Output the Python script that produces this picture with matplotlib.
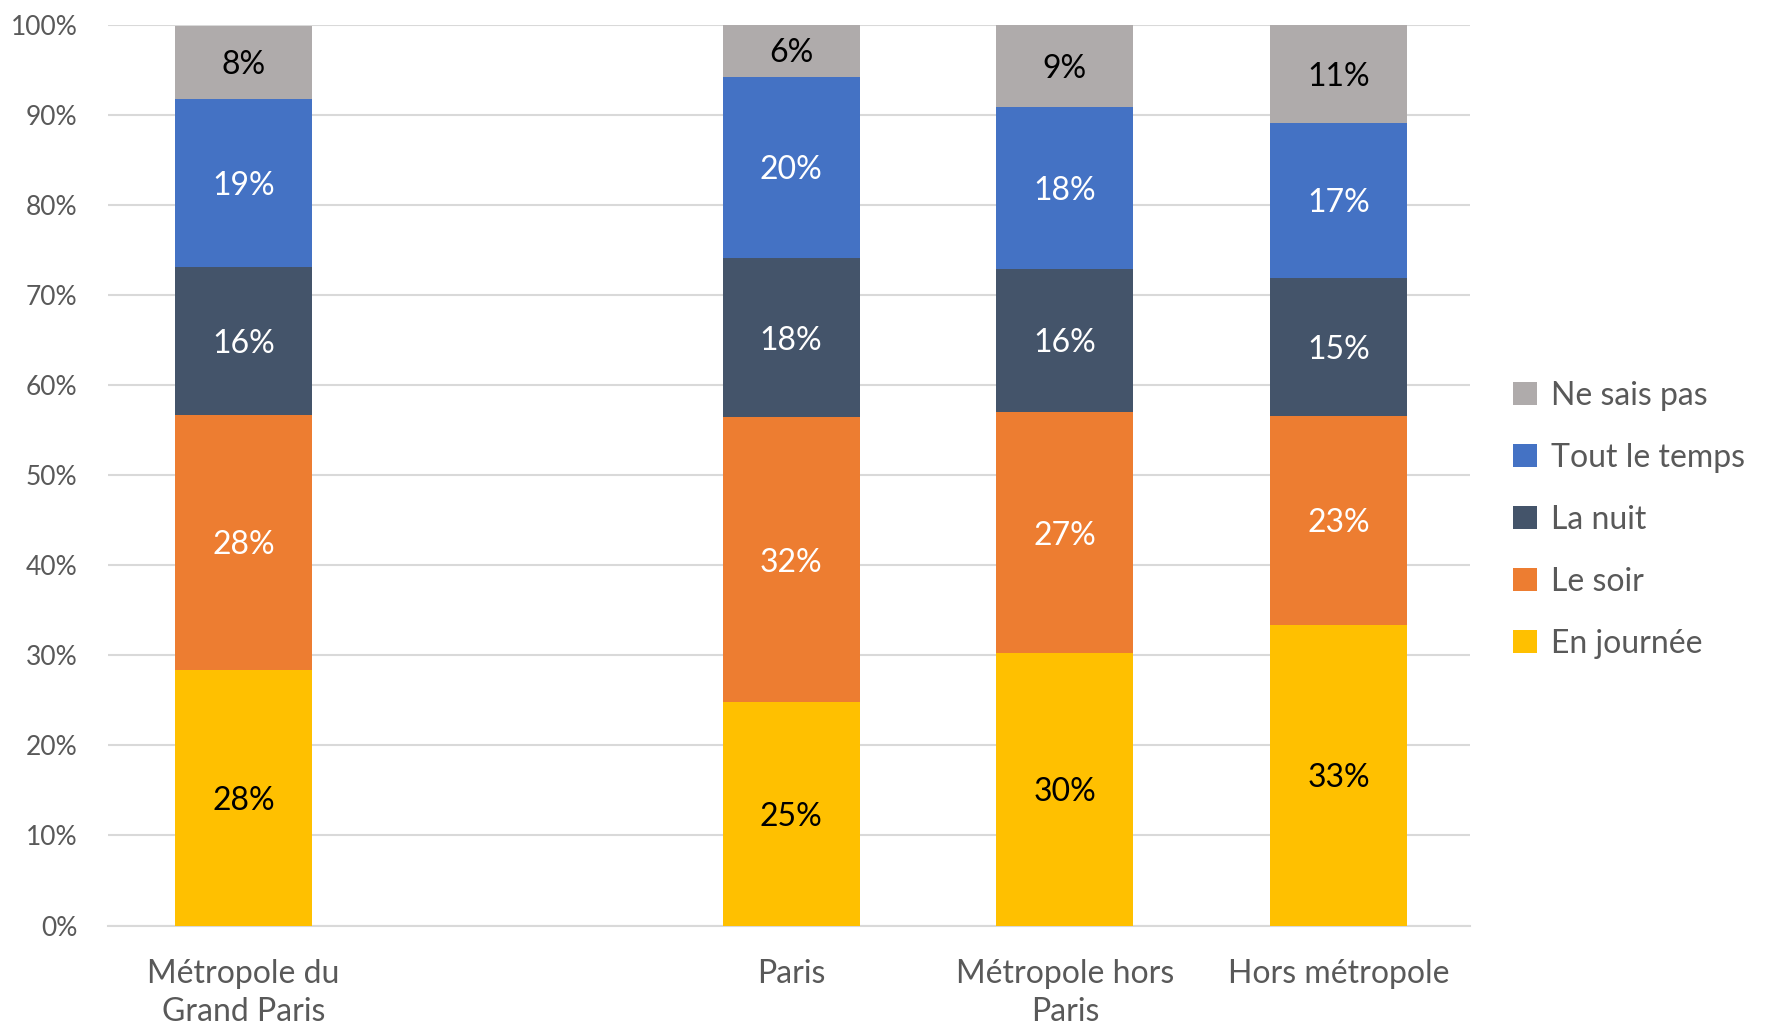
import matplotlib
matplotlib.use("Agg")
import matplotlib.pyplot as plt
import numpy as np

plt.rcParams['font.family'] = ['Lato', 'DejaVu Sans']

categories = ["Métropole du\nGrand Paris", "", "Paris", "Métropole hors\nParis", "Hors métropole"]
series_names = ["En journée", "Le soir", "La nuit", "Tout le temps", "Ne sais pas"]
en_journee = [28.4, np.nan, 24.8, 30.2, 33.4]
le_soir = [28.3, np.nan, 31.6, 26.8, 23.2]
la_nuit = [16.4, np.nan, 17.7, 15.9, 15.3]
tout_le_temps = [18.7, np.nan, 20.1, 18.0, 17.2]
ne_sais_pas = [8.1, np.nan, 5.9, 9.1, 10.9]

series = [en_journee, le_soir, la_nuit, tout_le_temps, ne_sais_pas]
colors = ["#FFC000", "#ED7D31", "#44546A", "#4472C4", "#AFABAB"]
label_colors = ["black", "white", "white", "white", "black"]

fig = plt.figure(figsize=(17.67, 10.27), dpi=100)
ax = fig.add_axes([0.0612, 0.0988, 0.7708, 0.8772])

x = np.arange(len(categories))
bottom = np.zeros(len(categories))
handles = []
for vals, col, lc, name in zip(series, colors, label_colors, series_names):
    v = np.array(vals, dtype=float)
    vv = np.nan_to_num(v)
    bars = ax.bar(x, vv, width=0.5, bottom=bottom, color=col, label=name, zorder=3)
    handles.append(bars)
    for xi, b, val in zip(x, bottom, v):
        if not np.isnan(val):
            ax.text(xi, b + val / 2, f"{round(val)}%", ha="center", va="center_baseline",
                    color=lc, fontsize=23, zorder=4)
    bottom = bottom + vv

ax.set_xlim(-0.494, 4.48)
ax.set_ylim(0, 100)
ax.set_yticks(np.arange(0, 101, 10))
ax.set_yticklabels([f"{t}%" for t in range(0, 101, 10)], fontsize=19, color="#595959")
ax.set_xticks(x)
ax.set_xticklabels(categories, fontsize=23, color="#595959", linespacing=1.35)
ax.tick_params(axis="both", length=0)
ax.tick_params(axis="x", pad=24)
ax.tick_params(axis="y", pad=22)
ax.grid(axis="y", color="#D9D9D9", linewidth=1.5, zorder=0)
for s in ["top", "right", "left"]:
    ax.spines[s].set_visible(False)
ax.spines["bottom"].set_color("#D9D9D9")
ax.spines["bottom"].set_linewidth(1.5)

leg = fig.legend(handles[::-1], series_names[::-1], loc="center left",
                 bbox_to_anchor=(0.8563, 0.494), frameon=False, fontsize=23,
                 handlelength=0.75, handleheight=0.75, handletextpad=0.45,
                 labelspacing=1.0, labelcolor="#595959", borderpad=0,
                 borderaxespad=0)

fig.savefig("out.png", dpi=100)
